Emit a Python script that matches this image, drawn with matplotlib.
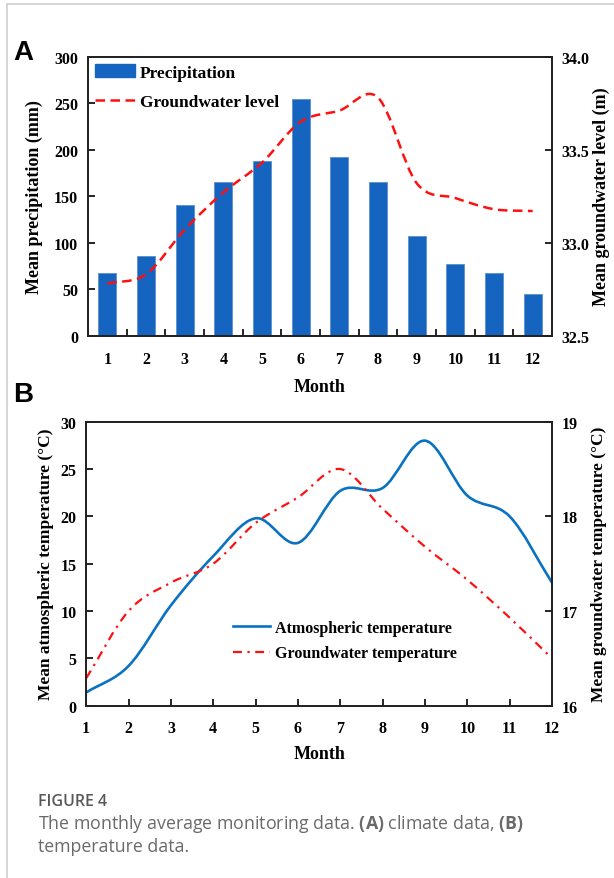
import numpy as np
import matplotlib
matplotlib.use('Agg')
import matplotlib.pyplot as plt
from matplotlib.path import Path
from matplotlib.patches import PathPatch, Patch
from matplotlib.lines import Line2D

months = np.arange(1, 13)
precip = [67, 86, 140, 165, 188, 255, 192, 165, 107, 77, 67, 45]
gw_level = [32.78, 32.83, 33.07, 33.27, 33.43, 33.65, 33.71, 33.78, 33.32, 33.24, 33.18, 33.17]
air_temp = [1.4, 4.2, 10.6, 15.8, 19.8, 17.2, 22.7, 23.0, 28.0, 22.2, 20.0, 13.0]
gw_temp = [16.29, 17.0, 17.3, 17.5, 17.93, 18.2, 18.5, 18.08, 17.68, 17.33, 16.93, 16.5]

SERIF = 'Liberation Serif'
BAR_BLUE = '#1565c0'
LINE_BLUE = '#0a72c0'
RED = '#ff1010'

plt.rcParams['mathtext.fontset'] = 'custom'
plt.rcParams['mathtext.rm'] = 'Open Sans'
plt.rcParams['mathtext.bf'] = 'Open Sans:bold'


def smooth_path(x, y):
    # Catmull-Rom curve through the points, drawn as cubic Bezier segments
    x = np.asarray(x, float)
    y = np.asarray(y, float)
    n = len(x)
    mx = np.gradient(x)
    my = np.gradient(y)
    verts = [(x[0], y[0])]
    codes = [Path.MOVETO]
    for i in range(n - 1):
        verts += [(x[i] + mx[i] / 3, y[i] + my[i] / 3),
                  (x[i + 1] - mx[i + 1] / 3, y[i + 1] - my[i + 1] / 3),
                  (x[i + 1], y[i + 1])]
        codes += [Path.CURVE4] * 3
    return Path(verts, codes)


def style_axis(ax, size=11.5):
    for s in ax.spines.values():
        s.set_linewidth(1.3)
        s.set_color('#222222')
    ax.tick_params(direction='in', length=5, width=1.2, labelsize=size, pad=7)
    for lab in ax.get_xticklabels() + ax.get_yticklabels():
        lab.set_fontfamily(SERIF)
        lab.set_fontweight('bold')


fig = plt.figure(figsize=(6.14, 8.79), dpi=100)

# ---- panel A
ax1 = fig.add_axes([0.1433, 0.617, 0.7557, 0.3174])
ax1.bar(months, precip, width=0.46, color=BAR_BLUE, edgecolor='#5b8fd0', linewidth=0.6)
ax1.set_xlim(0.5, 12.5)
ax1.set_ylim(0, 300)
ax1.set_xticks(months)
ax1.set_xticks(np.arange(1.5, 12.5, 1), minor=True)
ax1.set_yticks(range(0, 301, 50))
ax1.set_xlabel('Month', family=SERIF, weight='bold', fontsize=13, labelpad=8)
ax1.set_ylabel('Mean precipitation (mm)', family=SERIF, weight='bold', fontsize=13, labelpad=8)

ax1r = ax1.twinx()
ax1r.set_ylim(32.5, 34.0)
ax1r.set_yticks([32.5, 33.0, 33.5, 34.0])
ax1r.set_yticklabels(['32.5', '33.0', '33.5', '34.0'])
ax1r.add_patch(PathPatch(smooth_path(months, gw_level), fill=False, edgecolor=RED,
                         linewidth=1.8, linestyle=(0, (3.8, 2.2))))
ax1r.set_ylabel('Mean groundwater level (m)', family=SERIF, weight='bold', fontsize=13,
                labelpad=2)
style_axis(ax1)
style_axis(ax1r)
ax1.tick_params(axis='x', which='major', length=0, pad=11)
ax1.tick_params(axis='x', which='minor', direction='in', length=5, width=1.2)

handles = [Patch(facecolor=BAR_BLUE, edgecolor=BAR_BLUE),
           Line2D([], [], color=RED, linewidth=1.8, linestyle=(0, (3.8, 2.2)))]
ax1.legend(handles, ['Precipitation', 'Groundwater level'], loc='upper left',
           bbox_to_anchor=(-0.018, 1.03), frameon=False, handlelength=2.3, handleheight=0.8,
           handletextpad=0.25, labelspacing=0.75, borderaxespad=0.5,
           prop={'family': SERIF, 'weight': 'bold', 'size': 12.5})

# ---- panel B
ax2 = fig.add_axes([0.1404, 0.196, 0.7586, 0.3231])
ax2.add_patch(PathPatch(smooth_path(months, air_temp), fill=False, edgecolor=LINE_BLUE,
                        linewidth=1.9))
ax2.set_xlim(1, 12)
ax2.set_ylim(0, 30)
ax2.set_xticks(months)
ax2.set_yticks(range(0, 31, 5))
ax2.set_xlabel('Month', family=SERIF, weight='bold', fontsize=13, labelpad=7)
ax2.set_ylabel('Mean atmospheric temperature (°C)', family=SERIF, weight='bold',
               fontsize=12.5, labelpad=4.5)

ax2r = ax2.twinx()
ax2r.set_ylim(16, 19)
ax2r.set_yticks([16, 17, 18, 19])
ax2r.add_patch(PathPatch(smooth_path(months, gw_temp), fill=False, edgecolor=RED,
                         linewidth=1.6, linestyle=(0, (4, 2.5, 1, 2.5))))
ax2r.set_ylabel('Mean groundwater temperature (°C)', family=SERIF, weight='bold',
                fontsize=12.5, labelpad=9.5)
style_axis(ax2)
style_axis(ax2r)
ax2.tick_params(axis='x', pad=10)

handles = [Line2D([], [], color=LINE_BLUE, linewidth=1.9),
           Line2D([], [], color=RED, linewidth=1.6, linestyle=(0, (4, 2.5, 1, 2.5)))]
ax2.legend(handles, ['Atmospheric temperature', 'Groundwater temperature'], loc='upper left',
           bbox_to_anchor=(0.285, 0.354), frameon=False, handlelength=2.3,
           handletextpad=0.3, labelspacing=0.6,
           prop={'family': SERIF, 'weight': 'bold', 'size': 11.5})

# ---- panel letters, caption and page border
fig.text(0.022, 0.932, 'A', family='Liberation Sans', weight='bold', fontsize=20, va='baseline')
fig.text(0.022, 1 - 402 / 879, 'B', family='Liberation Sans', weight='bold', fontsize=20,
         va='baseline')

fig.text(38 / 614, 1 - 806 / 879, 'FIGURE 4', family='Open Sans', weight='semibold',
         fontsize=11.5, color='#585858', va='baseline')
fig.text(38 / 614, 1 - 829 / 879,
         'The monthly average monitoring data. $\\mathbf{(A)}$ climate data, $\\mathbf{(B)}$',
         family='Open Sans', fontsize=12.8, color='#6a6a6a', va='baseline')
fig.text(38 / 614, 1 - 852 / 879, 'temperature data.', family='Open Sans', fontsize=12.8,
         color='#6a6a6a', va='baseline')

fig.add_artist(Line2D([7 / 614, 7 / 614], [0, 1 - 5 / 879], color='#d0d0d0', linewidth=1.2))
fig.add_artist(Line2D([7 / 614, 1], [1 - 5 / 879, 1 - 5 / 879], color='#d0d0d0', linewidth=1.2))

fig.savefig('out.png', dpi=100)
